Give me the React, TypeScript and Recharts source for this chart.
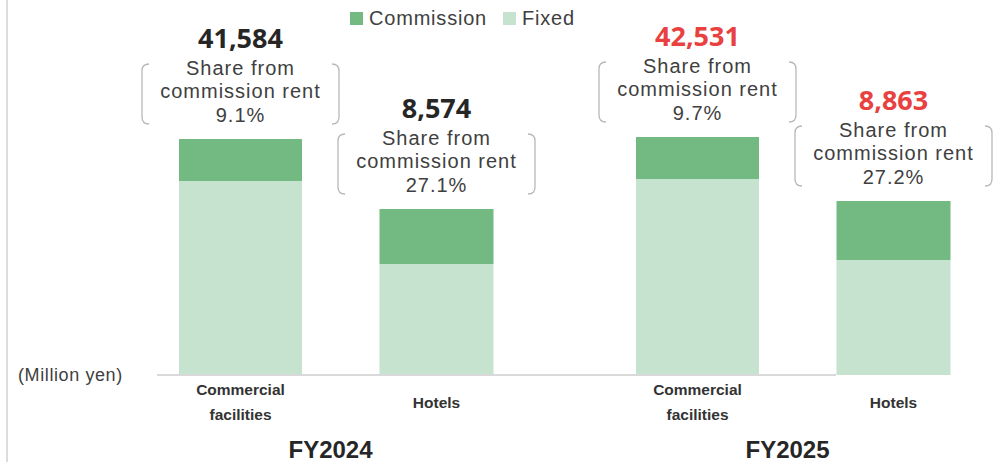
// Fixed vs commission rent by segment, FY2024 / FY2025 (schematic stacked bars).
// Bar heights follow the drawn picture, not the yen values (the original is not to scale).

import { BarChart, Bar, XAxis, YAxis, Legend, LabelList } from "recharts";

const fiscalYears = ["FY2024", "FY2025"];
const segmentNames = ["Commercial facilities", "Hotels"];

// drawn heights (chart units)
const commercialFixed = [194, 196];
const commercialCommission = [42, 42];
const hotelFixed = [111, 115];
const hotelCommission = [55, 59];

// labels
const commercialTotal = ["41,584", "42,531"];
const hotelTotal = ["8,574", "8,863"];
const commercialShare = ["9.1%", "9.7%"];
const hotelShare = ["27.1%", "27.2%"];
const totalHighlight = [false, true];

const COMMISSION = "#72b982";
const FIXED = "#c6e3cf";
const TEXT = "#404040";
const SANS = "'Noto Sans', 'DejaVu Sans', sans-serif";
const LIGHT = "'Liberation Sans', Arial, sans-serif";
const BOLD = "'Liberation Sans', Arial, sans-serif";

const rows = fiscalYears.map((fy, i) => ({
  fy,
  cFixed: commercialFixed[i], cComm: commercialCommission[i],
  hFixed: hotelFixed[i], hComm: hotelCommission[i],
}));

const legendItems = [
  { name: "Commission", color: COMMISSION },
  { name: "Fixed", color: FIXED },
];

function Callout(totals: string[], shares: string[]) {
  return (props: any) => {
    const { x, y, width, index } = props;
    const cx = Number(x) + Number(width) / 2;
    const top = Number(y);
    const left = cx - 98.5, right = cx + 98.5;
    const bTop = top - 75, bBot = top - 15, r = 7, t = 7;
    return (
      <g>
        <text x={cx} y={top - 91} textAnchor="middle" fontFamily={SANS} fontWeight={700} fontSize={27}
          fill={totalHighlight[index] ? "#e8413f" : "#262626"}>{totals[index]}</text>
        <path d={`M${left + t},${bTop} Q${left},${bTop} ${left},${bTop + r} L${left},${bBot - r} Q${left},${bBot} ${left + t},${bBot}`}
          fill="none" stroke="#b8b8b8" strokeWidth={1.3} />
        <path d={`M${right - t},${bTop} Q${right},${bTop} ${right},${bTop + r} L${right},${bBot - r} Q${right},${bBot} ${right - t},${bBot}`}
          fill="none" stroke="#b8b8b8" strokeWidth={1.3} />
        <g fontFamily={LIGHT} fontSize={20} letterSpacing={1} fill={TEXT} textAnchor="middle">
          <text x={cx} y={top - 64}>Share from</text>
          <text x={cx} y={top - 41}>commission rent</text>
          <text x={cx} y={top - 17}>{shares[index]}</text>
        </g>
      </g>
    );
  };
}

function SegmentLabel(name: string) {
  return (props: any) => {
    const { x, y, width, height } = props;
    const cx = Number(x) + Number(width) / 2;
    const base = Number(y) + Number(height);
    const words = name === "Hotels" ? [name] : name.split(" ");
    return (
      <g fontFamily={BOLD} fontWeight={700} fontSize={15.5} fill="#333" textAnchor="middle">
        {words.length === 1
          ? <text x={cx} y={base + 33}>{words[0]}</text>
          : words.map((w, k) => <text key={k} x={cx} y={base + 20 + k * 25}>{w}</text>)}
      </g>
    );
  };
}

function FyTick(props: any) {
  const { x, y, payload } = props;
  return (
    <text x={x - 6} y={y + 83} textAnchor="middle" fontFamily={BOLD} fontWeight={700} fontSize={24} fill="#262626">
      {payload.value}
    </text>
  );
}

function LegendRow() {
  return (
    <div style={{ display: "flex", alignItems: "center", paddingLeft: 350, fontFamily: LIGHT, fontSize: 20, letterSpacing: 0.8, color: TEXT, lineHeight: "24px" }}>
      {legendItems.map((it, i) => (
        <div key={it.name} style={{ display: "flex", alignItems: "center", marginLeft: i ? 16 : 0 }}>
          <span style={{ width: 13, height: 13, background: it.color, display: "inline-block", marginRight: 6 }} />
          <span>{it.name}</span>
        </div>
      ))}
    </div>
  );
}

export default function App() {
  return (
    <div style={{ position: "absolute", left: 0, top: 0, width: 1003, height: 462, background: "#fff", overflow: "hidden" }}>
      <div style={{ position: "absolute", left: 6, top: 0, width: 2, height: 462, background: "#dcdcdc" }} />
      <div style={{ position: "absolute", left: 18, top: 365, fontFamily: LIGHT, fontSize: 18, letterSpacing: 0.6, color: TEXT, whiteSpace: "nowrap" }}>
        (Million yen)
      </div>
      <BarChart width={1003} height={462} data={rows} barGap={77.5}
        margin={{ top: 75, right: 167, bottom: 0, left: 157 }}>
        <XAxis dataKey="fy" height={87} tickLine={false} tickSize={0} tickMargin={0} interval={0}
          axisLine={{ stroke: "#d9d9d9", strokeWidth: 2 }} padding={{ left: -49, right: -186 }} tick={<FyTick />} />
        <YAxis hide domain={[0, 300]} />
        <Legend verticalAlign="middle" align="center" layout="horizontal"
          wrapperStyle={{ top: 6, left: 0, width: 1003 }} content={() => <LegendRow />} />
        <Bar dataKey="cFixed" stackId="c" barSize={123} fill={FIXED} isAnimationActive={false}>
          <LabelList dataKey="cFixed" content={SegmentLabel(segmentNames[0])} />
        </Bar>
        <Bar dataKey="cComm" stackId="c" barSize={123} fill={COMMISSION} isAnimationActive={false}>
          <LabelList dataKey="cComm" content={Callout(commercialTotal, commercialShare)} />
        </Bar>
        <Bar dataKey="hFixed" stackId="h" barSize={114} fill={FIXED} isAnimationActive={false}>
          <LabelList dataKey="hFixed" content={SegmentLabel(segmentNames[1])} />
        </Bar>
        <Bar dataKey="hComm" stackId="h" barSize={114} fill={COMMISSION} isAnimationActive={false}>
          <LabelList dataKey="hComm" content={Callout(hotelTotal, hotelShare)} />
        </Bar>
      </BarChart>
    </div>
  );
}
